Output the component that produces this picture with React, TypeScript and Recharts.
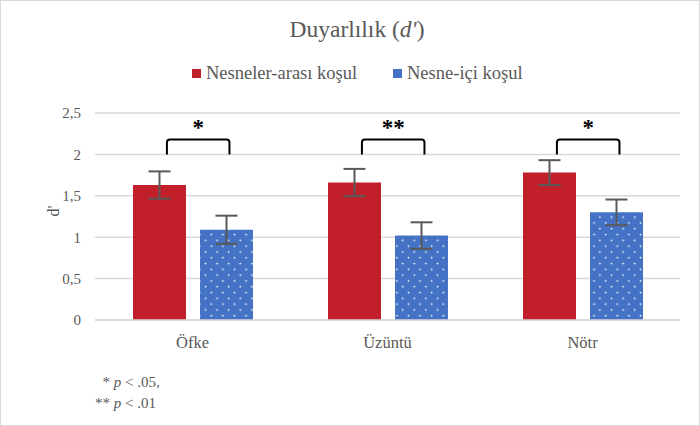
import React from 'react';
import { BarChart, Bar, XAxis, YAxis, CartesianGrid, ErrorBar, LabelList } from 'recharts';

const categories = ['Öfke', 'Üzüntü', 'Nötr'];
const betweenValues = [1.63, 1.66, 1.78];
const betweenErrors = [0.165, 0.165, 0.15];
const withinValues = [1.09, 1.02, 1.3];
const withinErrors = [0.17, 0.16, 0.155];
const significance = ['*', '**', '*'];
const yTicks = [0, 0.5, 1, 1.5, 2, 2.5];

const BETWEEN_COLOR = '#C1202A';
const WITHIN_COLOR = '#4472C4';
const TEXT_COLOR = '#595959';
const FONT = "'Liberation Serif', 'DejaVu Serif', 'Times New Roman', serif";

const data = categories.map((name, i) => ({
  name,
  between: betweenValues[i],
  betweenErr: betweenErrors[i],
  within: withinValues[i],
  withinErr: withinErrors[i],
}));

const fmt = (v: number) => String(v).replace('.', ',');

// bracket + stars above each pair, placed from the red bar's own geometry
const Bracket = (props: any) => {
  const { x, y, width, height, value, index } = props;
  const base = y + height;
  const perUnit = height / value;
  const toY = (v: number) => base - v * perUnit;
  const left = x + width * 0.64;
  const right = x + width * 1.82;
  const top = toY(2.18);
  const bottom = toY(2.0);
  const r = 3;
  const d = `M${left},${bottom} L${left},${top + r} Q${left},${top} ${left + r},${top} L${right - r},${top} Q${right},${top} ${right},${top + r} L${right},${bottom}`;
  return (
    <g>
      <path d={d} fill="none" stroke="#000" strokeWidth={2} />
      <text
        x={(left + right) / 2}
        y={toY(2.24)}
        textAnchor="middle"
        fontSize={23}
        fontWeight="bold"
        style={{ fontFamily: FONT }}
        fill="#000"
      >
        {significance[index]}
      </text>
    </g>
  );
};

const legendItem = (left: number, color: string, label: string) => (
  <div
    style={{
      position: 'absolute',
      top: 63,
      left,
      display: 'flex',
      alignItems: 'center',
      fontSize: 18.5,
      color: TEXT_COLOR,
      whiteSpace: 'nowrap',
    }}
  >
    <span style={{ width: 9, height: 9, background: color, marginRight: 5 }} />
    <span>{label}</span>
  </div>
);

export default function App() {
  return (
    <div style={{ position: 'relative', width: 700, height: 426, fontFamily: FONT }}>
      <style>{`body{margin:0}`}</style>
      <svg width={0} height={0} style={{ position: 'absolute' }}>
        <defs>
          <pattern id="dots" width={11.6} height={11.6} patternUnits="userSpaceOnUse">
            <rect width={11.6} height={11.6} fill={WITHIN_COLOR} />
            <circle cx={2.5} cy={2.5} r={0.9} fill="#fff" />
            <circle cx={8.3} cy={8.3} r={0.9} fill="#fff" />
          </pattern>
        </defs>
      </svg>
      <div
        style={{
          position: 'absolute',
          left: 0,
          top: 0,
          width: 698,
          height: 424,
          border: '1px solid #D9D9D9',
        }}
      />
      <div
        style={{
          position: 'absolute',
          top: 16,
          left: 0,
          width: 714,
          textAlign: 'center',
          fontSize: 23.5,
          color: TEXT_COLOR,
        }}
      >
        Duyarlılık (<i>d'</i>)
      </div>
      {legendItem(192, BETWEEN_COLOR, 'Nesneler-arası koşul')}
      {legendItem(393, WITHIN_COLOR, 'Nesne-içi koşul')}
      <BarChart
        width={700}
        height={426}
        data={data}
        margin={{ top: 113, right: 20, bottom: 76, left: 45 }}
        barGap={14}
        barSize={53}
        style={{ fontFamily: FONT }}
      >
        <CartesianGrid vertical={false} stroke="#D9D9D9" strokeWidth={1.5} />
        <XAxis
          dataKey="name"
          axisLine={{ stroke: '#D9D9D9', strokeWidth: 1.5 }}
          tickLine={false}
          tick={{ fill: TEXT_COLOR, fontSize: 16.5, style: { fontFamily: FONT } }}
          tickMargin={10}
          height={30}
        />
        <YAxis
          domain={[0, 2.5]}
          ticks={yTicks}
          tickFormatter={fmt}
          axisLine={false}
          tickLine={false}
          width={50}
          tick={{ fill: TEXT_COLOR, fontSize: 15, style: { fontFamily: FONT } }}
          tickMargin={8}
          label={{
            value: "d'",
            angle: -90,
            position: 'insideLeft',
            offset: 8,
            fill: TEXT_COLOR,
            fontSize: 16,
            style: { fontFamily: FONT },
          }}
        />
        <Bar dataKey="between" fill={BETWEEN_COLOR} isAnimationActive={false}>
          <ErrorBar dataKey="betweenErr" width={11} strokeWidth={2} stroke={TEXT_COLOR} direction="y" />
          <LabelList dataKey="between" content={<Bracket />} />
        </Bar>
        <Bar dataKey="within" fill="url(#dots)" isAnimationActive={false}>
          <ErrorBar dataKey="withinErr" width={11} strokeWidth={2} stroke={TEXT_COLOR} direction="y" />
        </Bar>
      </BarChart>
      <div
        style={{
          position: 'absolute',
          top: 372,
          left: 95,
          fontSize: 15,
          lineHeight: '21px',
          color: TEXT_COLOR,
        }}
      >
        <div>&nbsp;&nbsp;* <i>p</i> &lt; .05,</div>
        <div>** <i>p</i> &lt; .01</div>
      </div>
    </div>
  );
}
